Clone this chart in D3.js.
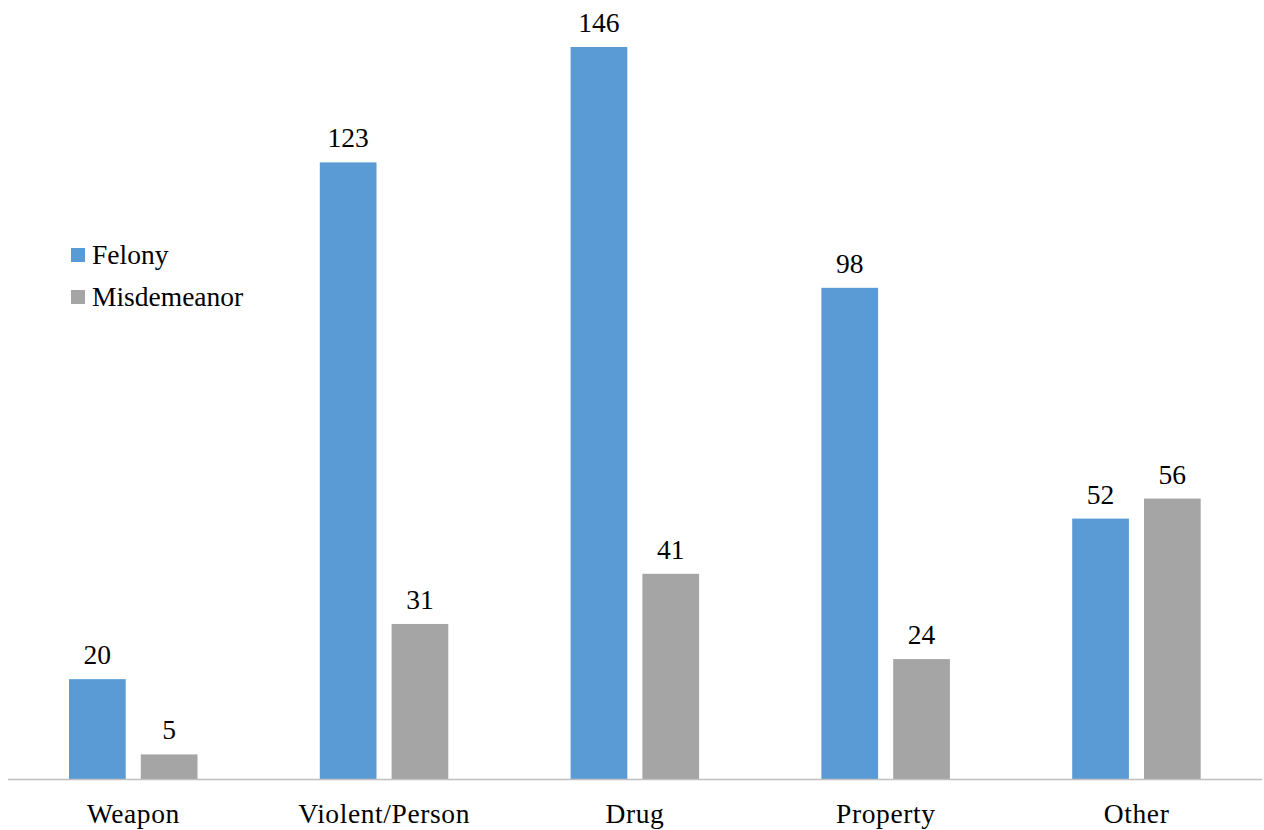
<!DOCTYPE html>
<html><head><meta charset="utf-8">
<script src="https://cdn.jsdelivr.net/npm/d3@7"></script>
</head><body style="margin:0">
<svg id="c" width="1264" height="830" font-family="Liberation Serif"></svg>
<script>
const categories = ["Weapon", "Violent/Person", "Drug", "Property", "Other"];
const seriesNames = ["Felony", "Misdemeanor"];
const felony = [20, 123, 146, 98, 52];
const misdemeanor = [5, 31, 41, 24, 56];
const colors = ["#5B9BD5", "#A5A5A5"];

const svg = d3.select("#c");
const FONT = "Liberation Serif";
const left = 8, right = 1262, base = 779.5;
const x0 = d3.scaleBand().domain(categories).range([left, right]).paddingInner(0).paddingOuter(0);
const x1 = d3.scaleBand().domain(seriesNames).range([61, 189.5]).paddingInner(0.21).paddingOuter(0);
const y = d3.scaleLinear().domain([0, 146]).range([base, 47]);

const data = categories.map((c, i) => ({cat: c, vals: [felony[i], misdemeanor[i]]}));

const g = svg.selectAll("g.grp").data(data).join("g").attr("class", "grp")
  .attr("transform", d => `translate(${x0(d.cat)},0)`);
g.selectAll("rect").data(d => d.vals.map((v, j) => ({s: seriesNames[j], v, j})))
  .join("rect")
  .attr("x", d => x1(d.s)).attr("width", x1.bandwidth())
  .attr("y", d => y(d.v)).attr("height", d => base - y(d.v))
  .attr("fill", d => colors[d.j]);
g.selectAll("text").data(d => d.vals.map((v, j) => ({s: seriesNames[j], v, j})))
  .join("text")
  .attr("x", d => x1(d.s) + x1.bandwidth() / 2)
  .attr("y", d => y(d.v) - 15)
  .attr("text-anchor", "middle")
  .attr("font-family", FONT).attr("font-size", 27.5).attr("fill", "#000")
  .text(d => d.v);

const ax = svg.append("g").attr("transform", `translate(0,${base})`)
  .call(d3.axisBottom(x0).tickSize(0).tickPadding(0))
  .attr("font-family", FONT).attr("font-size", 27.5);
ax.select(".domain").attr("stroke", "#BFBFBF").attr("stroke-width", 1.5)
  .attr("d", `M${left},0H${right}`);
ax.selectAll(".tick text").attr("dy", 0).attr("y", 43.5)
  .attr("font-family", FONT).attr("font-size", 27.5).attr("letter-spacing", 0.6).attr("fill", "#000");

const lg = svg.append("g");
seriesNames.forEach((s, i) => {
  const yy = 248 + i * 42;
  lg.append("rect").attr("x", 71).attr("y", yy).attr("width", 14).attr("height", 14).attr("fill", colors[i]);
  lg.append("text").attr("x", 92).attr("y", yy + 16)
    .attr("font-family", FONT).attr("font-size", 27.5).attr("fill", "#000").text(s);
});
</script>
</body></html>
